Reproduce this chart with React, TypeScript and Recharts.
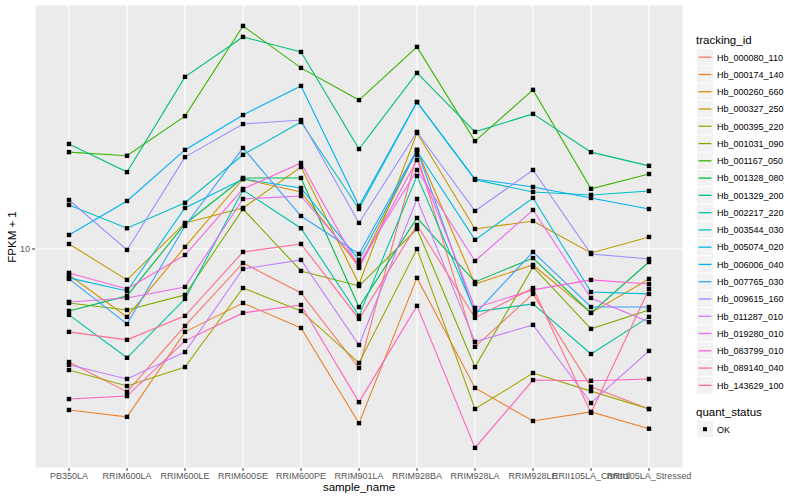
import { CartesianGrid, Line, LineChart, XAxis, YAxis } from 'recharts'

const samples = [
  'PB350LA',
  'RRIM600LA',
  'RRIM600LE',
  'RRIM600SE',
  'RRIM600PE',
  'RRIM901LA',
  'RRIM928BA',
  'RRIM928LA',
  'RRIM928LE',
  'RRII105LA_Control',
  'RRII105LA_Stressed',
]

const trackingIds = [
  'Hb_000080_110',
  'Hb_000174_140',
  'Hb_000260_660',
  'Hb_000327_250',
  'Hb_000395_220',
  'Hb_001031_090',
  'Hb_001167_050',
  'Hb_001328_080',
  'Hb_001329_200',
  'Hb_002217_220',
  'Hb_003544_030',
  'Hb_005074_020',
  'Hb_006006_040',
  'Hb_007765_030',
  'Hb_009615_160',
  'Hb_011287_010',
  'Hb_019280_010',
  'Hb_083799_010',
  'Hb_089140_040',
  'Hb_143629_100',
]

// ggplot default hue palette, 20 levels
const colors = [
  '#F8766D', '#EA8331', '#D89000', '#C09B00', '#A3A500',
  '#7CAE00', '#39B600', '#00BB4E', '#00BF7D', '#00C1A3',
  '#00BFC4', '#00BAE0', '#00B0F6', '#35A2FF', '#9590FF',
  '#C77CFF', '#E76BF3', '#FA62DB', '#FF62BC', '#FF6C91',
]

// FPKM + 1, one value per sample
const hb000080 = [3.53, 2.68, 4.92, 8.79, 6.67, 3.34, 23.8, 4.06, 6.61, 2.81, 2.29]
const hb000174 = [2.27, 2.13, 4.66, 6.08, 4.83, 2.01, 7.66, 2.78, 2.05, 2.23, 1.91]
const hb000260 = [7.87, 5.35, 10.19, 19.05, 16.9, 8.47, 24.9, 7.24, 8.63, 5.55, 7.59]
const hb000327 = [10.47, 7.52, 12.71, 14.59, 21.28, 7.24, 29.1, 12.02, 12.94, 9.64, 11.17]
const hb000395 = [3.28, 2.83, 3.37, 6.98, 5.65, 3.5, 10, 2.29, 3.19, 2.7, 2.29]
const hb001031 = [6.08, 5.7, 6.55, 14.45, 8.17, 7.11, 12.02, 3.37, 8.47, 4.79, 5.7]
const hb001167 = [24.4, 23.6, 34.0, 78.0, 53.0, 39.4, 64.3, 27.0, 43.3, 17.4, 19.95]
const hb001328 = [5.65, 6.49, 12.59, 19.23, 19.23, 5.86, 13.3, 7.38, 9.2, 5.55, 8.87]
const hb001329 = [26.3, 20.3, 48.8, 70.5, 61.4, 25.1, 50.6, 29.4, 34.7, 24.4, 21.5]
const hb002217 = [5.45, 3.67, 6.31, 17.2, 12.1, 5.4, 19.6, 5.6, 6.03, 3.8, 5.35]
const hb003544 = [15.0, 12.1, 15.3, 23.8, 32.2, 14.45, 38.7, 18.9, 16.9, 16.45, 17.06]
const hb005074 = [7.66, 6.79, 14.59, 19.05, 17.54, 9.04, 24.66, 10.87, 16.0, 6.73, 6.61]
const hb006006 = [11.38, 15.56, 24.9, 34.35, 44.9, 14.86, 38.7, 19.05, 17.7, 16.0, 14.45]
const hb007765 = [7.59, 5.01, 12.36, 25.35, 13.55, 9.55, 24.9, 5.5, 9.73, 5.86, 5.86]
const hb009615 = [15.7, 9.91, 23.3, 31.6, 32.8, 12.71, 29.4, 14.19, 20.7, 9.55, 9.12]
const hb011287 = [3.44, 3.02, 3.87, 8.32, 9.04, 4.13, 15.85, 4.25, 4.97, 2.42, 3.91]
const hb019280 = [6.14, 6.37, 7.05, 15.85, 16.29, 8.71, 20.7, 8.95, 14.32, 6.37, 5.1]
const hb083799 = [8.02, 6.92, 9.46, 17.38, 22.08, 8.4, 22.7, 5.81, 6.86, 7.52, 7.24]
const hb089140 = [2.51, 2.58, 4.29, 5.55, 5.97, 2.44, 5.92, 1.6, 2.99, 2.97, 3.02]
const hb143629 = [4.66, 4.33, 5.4, 9.73, 10.47, 5.25, 12.47, 5.3, 6.98, 2.21, 6.92]

const seriesValues = [
  hb000080, hb000174, hb000260, hb000327, hb000395,
  hb001031, hb001167, hb001328, hb001329, hb002217,
  hb003544, hb005074, hb006006, hb007765, hb009615,
  hb011287, hb019280, hb083799, hb089140, hb143629,
]

const yTicks = [10]
const yDomain = [1.33, 94.6]

const data = samples.map((s, i) => {
  const row: Record<string, string | number> = { sample: s }
  trackingIds.forEach((id, k) => {
    row[id] = seriesValues[k][i]
  })
  return row
})

const FONT = '"Liberation Sans", Arial, Helvetica, sans-serif'

function SquareDot(props: any) {
  const { cx, cy } = props
  if (cx == null || cy == null) return null
  return <rect x={cx - 2.2} y={cy - 2.2} width={4.4} height={4.4} fill="#000" />
}

function Legend() {
  const rowH = 17.27
  const top0 = 49
  return (
    <svg
      width={110}
      height={450}
      style={{ position: 'absolute', left: 690, top: 0, fontFamily: FONT, overflow: 'visible' }}
    >
      <text x={6} y={44} fontSize={11.5} fill="#000">
        tracking_id
      </text>
      {trackingIds.map((id, k) => {
        const y = top0 + k * rowH
        return (
          <g key={id}>
            <rect x={7} y={y} width={16} height={16.3} fill="#F2F2F2" />
            <line x1={8.5} x2={21.5} y1={y + 8.2} y2={y + 8.2} stroke={colors[k]} strokeWidth={1.3} />
            <text x={27} y={y + 11.5} fontSize={9} fill="#000">
              {id}
            </text>
          </g>
        )
      })}
      <text x={6} y={416} fontSize={11.5} fill="#000">
        quant_status
      </text>
      <rect x={7} y={421} width={16} height={16.3} fill="#F2F2F2" />
      <rect x={13} y={427.2} width={4} height={4} fill="#000" />
      <text x={27} y={432.5} fontSize={9} fill="#000">
        OK
      </text>
    </svg>
  )
}

export default function App() {
  return (
    <div
      style={{
        position: 'absolute',
        left: 0,
        top: 0,
        width: 800,
        height: 500,
        background: '#fff',
        fontFamily: FONT,
      }}
    >
      <LineChart
        width={800}
        height={500}
        data={data}
        margin={{ top: 5, right: 117, left: 0, bottom: 0 }}
      >
        <CartesianGrid fill="#EBEBEB" stroke="#fff" strokeWidth={1.1} />
        <XAxis
          dataKey="sample"
          type="category"
          padding={{ left: 34, right: 34 }}
          interval={0}
          height={32}
          axisLine={false}
          tickLine={{ stroke: '#333', strokeWidth: 1 }}
          tickSize={3}
          tick={{ fontSize: 9, fill: '#555', fontFamily: FONT }}
        />
        <YAxis
          scale="log"
          domain={yDomain}
          allowDataOverflow
          ticks={yTicks}
          width={35}
          axisLine={false}
          tickLine={{ stroke: '#333', strokeWidth: 1 }}
          tickSize={3}
          tick={{ fontSize: 9, fill: '#555', fontFamily: FONT }}
        />
        {trackingIds.map((id, k) => (
          <Line
            key={id}
            dataKey={id}
            stroke={colors[k]}
            strokeWidth={1.1}
            dot={false}
            activeDot={false}
            isAnimationActive={false}
          />
        ))}
        {trackingIds.map((id) => (
          <Line
            key={id + '_pt'}
            dataKey={id}
            stroke="none"
            dot={<SquareDot />}
            activeDot={false}
            legendType="none"
            isAnimationActive={false}
          />
        ))}
      </LineChart>
      <div
        style={{
          position: 'absolute',
          left: 359,
          top: 481,
          transform: 'translateX(-50%)',
          fontSize: 11.5,
          whiteSpace: 'nowrap',
        }}
      >
        sample_name
      </div>
      <div
        style={{
          position: 'absolute',
          left: 12,
          top: 237,
          transform: 'translate(-50%, -50%) rotate(-90deg)',
          fontSize: 11.5,
          whiteSpace: 'nowrap',
        }}
      >
        FPKM + 1
      </div>
      <Legend />
    </div>
  )
}
